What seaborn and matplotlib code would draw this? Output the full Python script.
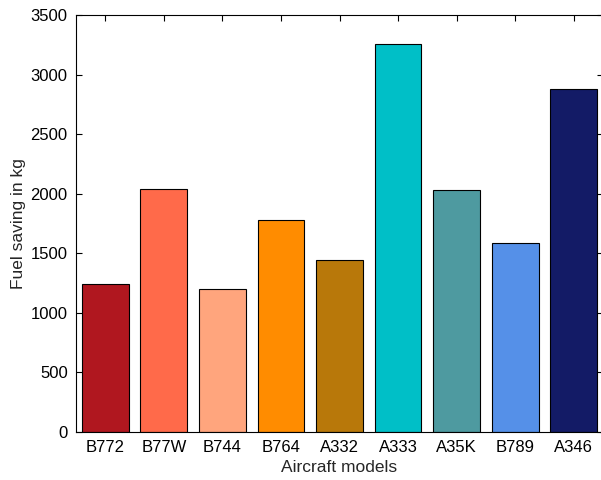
import matplotlib
matplotlib.use("Agg")
import matplotlib.pyplot as plt
import seaborn as sns
import pandas as pd

models = ["B772", "B77W", "B744", "B764", "A332", "A333", "A35K", "B789", "A346"]
savings = [1240, 2040, 1200, 1780, 1440, 3260, 2030, 1590, 2880]
colors = ["#B0171F", "#FF6A4A", "#FFA57D", "#FF8C00", "#B8780A",
          "#00BFC7", "#4E9AA0", "#5590E8", "#131B66"]

sns.set_theme(style="ticks")
plt.rcParams['font.family'] = ['Liberation Sans', 'DejaVu Sans']

df = pd.DataFrame({"model": models, "saving": savings})

fig = plt.figure(figsize=(6.01, 4.80), dpi=100)
ax = fig.add_axes([76/601, 48/480, 527/601, 417/480])
sns.barplot(data=df, x="model", y="saving", hue="model", palette=colors,
            legend=False, width=0.8, edgecolor="black", linewidth=0.8,
            saturation=1, ax=ax)
ax.set_xlim(-0.5, 8.5)
ax.set_ylim(0, 3500)
ax.set_yticks(range(0, 3501, 500))
ax.set_xlabel("Aircraft models", fontsize=12.5, labelpad=3)
ax.set_ylabel("Fuel saving in kg", fontsize=12.5, labelpad=3)
ax.tick_params(direction="in", length=4, width=0.8, labelsize=12,
               top=True, right=True, colors="black")
ax.tick_params(axis="x", pad=6)
ax.tick_params(axis="y", pad=6)
for s in ax.spines.values():
    s.set_visible(True)
    s.set_linewidth(0.8)
    s.set_color("black")
fig.savefig("out.png", dpi=100)
